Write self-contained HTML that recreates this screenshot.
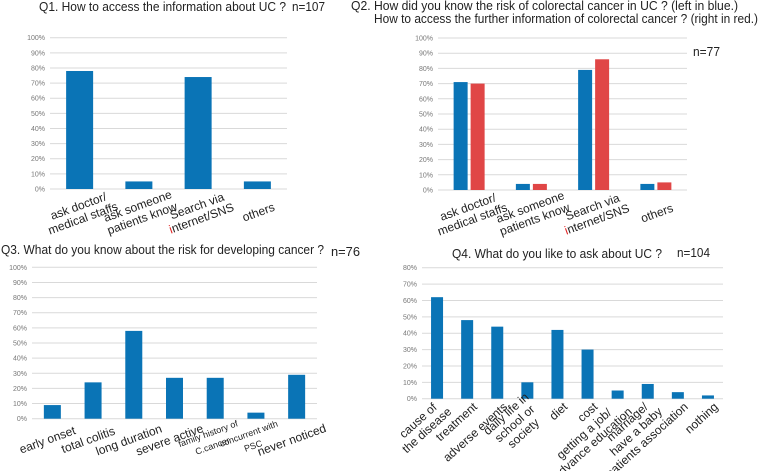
<!DOCTYPE html>
<html><head><meta charset="utf-8"><style>
html,body{margin:0;padding:0;background:#fff;}
svg{display:block;font-family:"Liberation Sans",Arial,sans-serif;}
</style></head><body>
<svg id="fig" width="760" height="471" viewBox="0 0 760 471"></svg>
<script>
const q1Categories=[["ask doctor/","medical staffs"],["ask someone","patients know"],["Search via","internet/SNS"],["others"]];
const q1Values=[78,5,74,5];
const q2Categories=[["ask doctor/","medical staffs"],["ask someone","patients know"],["Search via","internet/SNS"],["others"]];
const q2Blue=[71,4,79,4];
const q2Red=[70,4,86,5];
const q3Categories=[["early onset"],["total colitis"],["long duration"],["severe active"],["family history of","C.cancer"],["concurrent with","PSC"],["never noticed"]];
const q3Values=[9,24,58,27,27,4,29];
const q4Categories=[["cause of","the disease"],["treatment"],["adverse events"],["daily life in","school or","society"],["diet"],["cost"],["getting a job/","advance education"],["marriage/","have a baby"],["patients association"],["nothing"]];
const q4Values=[62,48,44,10,42,30,5,9,4,2];
const ticks100=["0%","10%","20%","30%","40%","50%","60%","70%","80%","90%","100%"];
const ticks80=["0%","10%","20%","30%","40%","50%","60%","70%","80%"];

const NS="http://www.w3.org/2000/svg";
const svg=document.getElementById('fig');
function mk(tag,attrs,parent){const e=document.createElementNS(NS,tag);for(const k in attrs)e.setAttribute(k,attrs[k]);(parent||svg).appendChild(e);return e;}
function txt(x,y,s,size,anchor,fill,parent){const t=mk('text',{x:x,y:y,'font-size':size,'text-anchor':anchor||'start',fill:fill||'#222'},parent);t.textContent=s;return t;}

function chart(o){
  const g=mk('g',{});
  
  
  const ys=v=>o.y0-(v/o.max)*(o.y0-o.y1);
  o.ticks.forEach((lab,i)=>{
    const v=i*10;const y=ys(v);
    const l=mk('line',{x1:o.x0,x2:o.x1,y1:y,y2:y,stroke:'#d9d9d9','stroke-width':1},g);
    
    
    const t=txt(o.x0-5,y+2.5,lab,7,'end','#777',g);
    
    
  });
  const n=o.cats.length;const band=(o.x1-o.x0)/n;
  o.cats.forEach((c,i)=>{
    const cx=o.x0+band*(i+0.5);
    o.series.forEach((s,j)=>{
      const off=(j-(o.series.length-1)/2)*(o.bw+o.gap);
      const v=s.vals[i];
      const r=mk('rect',{x:cx+off-o.bw/2,y:ys(v),width:o.bw,height:o.y0-ys(v),fill:s.color},g);
      
      
    });
    const L=c.length;
    const grp=mk('g',{transform:`translate(${cx+o.dx},${o.y0+o.dy}) rotate(${o.rot})`},g);
    
    
    const fs=(o.smallIdx&&o.smallIdx.includes(i))?o.small:o.fs;
    const els=c.map((ln,k)=>{
      const t=mk('text',{x:0,y:(k-(L-1)/2)*o.lh+fs*0.35,'font-size':fs,'text-anchor':'middle',fill:'#222'},grp);
      if(o.redI&&ln==='internet/SNS'){const s1=mk('tspan',{fill:'#e02020'},t);s1.textContent='i';const s2=mk('tspan',{},t);s2.textContent='nternet/SNS';}
      else t.textContent=ln;
      
      
      return t;
    });
    if(o.endAlign){
      let w=0;els.forEach(e=>{w=Math.max(w,e.getComputedTextLength());});
      els.forEach(e=>e.setAttribute('x',-w/2));
    }
  });
}

chart({name:'q1-chart',x0:50,x1:287,y0:189,y1:37.7,max:100,ticks:ticks100,cats:q1Categories,
  series:[{key:'q1',vals:q1Values,color:'#0a74b6'}],bw:27,gap:0,rot:-20,dx:1,dy:23,lh:13,fs:12,redI:true});
chart({name:'q2-chart',x0:438,x1:687,y0:190,y1:38,max:100,ticks:ticks100,cats:q2Categories,
  series:[{key:'blue',vals:q2Blue,color:'#0a74b6'},{key:'red',vals:q2Red,color:'#e04646'}],bw:14,gap:3,rot:-20,dx:1,dy:23,lh:13,fs:12,redI:true});
chart({name:'q3-chart',x0:32,x1:317,y0:418.7,y1:267.3,max:100,ticks:ticks100,cats:q3Categories,
  series:[{key:'q3',vals:q3Values,color:'#0a74b6'}],bw:17,gap:0,rot:-20,dx:-5,dy:21,lh:13,fs:12,smallIdx:[4,5],small:9});
chart({name:'q4-chart',x0:422,x1:723,y0:398.7,y1:267.7,max:80,ticks:ticks80,cats:q4Categories,
  series:[{key:'q4',vals:q4Values,color:'#0a74b6'}],bw:12,gap:0,rot:-42,dx:8,dy:6,lh:13,fs:12,endAlign:true});

function title(x,y,s,len,name){const t=mk('text',{x:x,y:y,'font-size':12.5,fill:'#222',textLength:len,lengthAdjust:'spacingAndGlyphs'});t.textContent=s;}
title(39,11,"Q1. How to access the information about UC ?",247,'q1-title');
title(292,11,"n=107",33,'q1-n');
title(351,10,"Q2. How did you know the risk of colorectal cancer in UC ? (left in blue.)",387,'q2-title-line1');
title(374,23,"How to access the further information of colorectal cancer ? (right in red.)",384,'q2-title-line2');
title(693,56,"n=77",27,'q2-n');
title(1,254,"Q3. What do you know about the risk for developing cancer ?",323,'q3-title');
title(331,256,"n=76",29,'q3-n');
title(452,258,"Q4. What do you like to ask about UC ?",210,'q4-title');
title(677,257,"n=104",33,'q4-n');
</script>
</body></html>
